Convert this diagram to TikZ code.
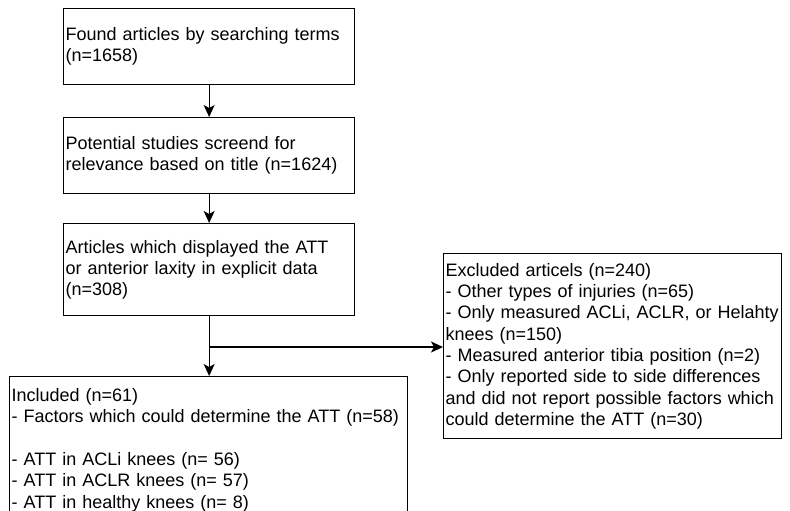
\documentclass[tikz,border=0pt]{standalone}
\usepackage{fontspec}
\setmainfont{Liberation Sans}
\usetikzlibrary{arrows.meta}

\begin{document}
\begin{tikzpicture}[
  x=1pt, y=-1pt,
  font=\fontsize{18}{21.3}\selectfont,
  box/.style={draw, rectangle, line width=1.3pt, anchor=north west, align=left, inner xsep=2pt, inner ysep=3pt},
  arrow/.style={line width=1.3pt, -{Stealth[length=12pt, width=11pt, inset=3pt]}},
]

\useasboundingbox (0,0) rectangle (790,511);
\clip (0,0) rectangle (790,511);

% --- Screening chain on the left ---
\node[box, text width=287pt, minimum height=76pt] (found) at (63,8)
  {Found articles by searching terms\\(n=1658)};
\node[box, text width=287pt, minimum height=76pt] (screen) at (63,117)
  {Potential studies screend for\\relevance based on title (n=1624)};
\node[box, text width=287pt, minimum height=92pt] (explicit) at (63,223)
  {Articles which displayed the ATT\\or anterior laxity in explicit data\\(n=308)};

% --- Result boxes ---
\node[box, text width=394pt, inner ysep=12pt] (included) at (9,376)
  {Included (n=61)\\- Factors which could determine the ATT (n=58)\\~\\- ATT in ACLi knees (n= 56)\\- ATT in ACLR knees (n= 57)\\- ATT in healthy knees (n= 8)\\~\\~};
\node[box, text width=334pt, minimum height=185pt] (excluded) at (443,253)
  {Excluded articels (n=240)\\- Other types of injuries (n=65)\\- Only measured ACLi, ACLR, or Helahty\\knees (n=150)\\- Measured anterior tibia position (n=2)\\- Only reported side to side differences\\and did not report possible factors which\\could determine the ATT (n=30)};

% Connectors.
\draw[arrow] (found) -- (screen);
\draw[arrow] (screen) -- (explicit);
\draw[arrow] (explicit.south) -- (explicit.south |- included.north);

% Branch off to the excluded articles.
\coordinate (split) at (explicit.south |- 0,347);
\draw[arrow] (split) -- (split -| excluded.west);

\end{tikzpicture}
\end{document}
